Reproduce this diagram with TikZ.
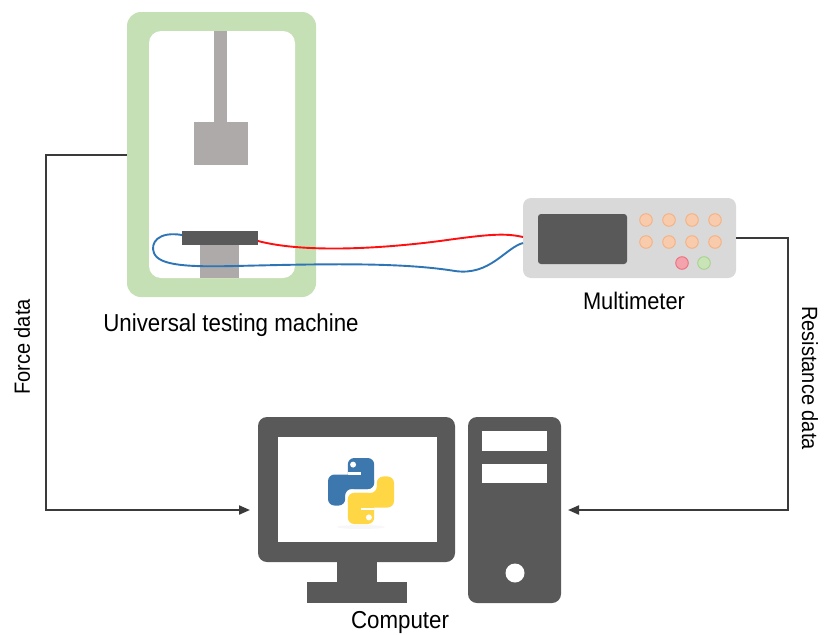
\documentclass[tikz,border=0pt]{standalone}
\usepackage{fontspec}
\setmainfont{Liberation Sans}[FakeStretch=0.91]
\usetikzlibrary{arrows.meta}

\definecolor{frameGreen}{HTML}{C5E0B4}
\definecolor{partGray}{HTML}{AEAAAA}
\definecolor{darkGray}{HTML}{595959}
\definecolor{meterBody}{HTML}{D9D9D9}
\definecolor{keyFill}{HTML}{F8CBAD}
\definecolor{keyEdge}{HTML}{F4B183}
\definecolor{redFill}{HTML}{F4A3AC}
\definecolor{redEdge}{HTML}{EB6F7C}
\definecolor{greenFill}{HTML}{C9E5B8}
\definecolor{greenEdge}{HTML}{A9D18E}
\definecolor{linkGray}{HTML}{3A3A3A}
\definecolor{wireRed}{HTML}{FF1010}
\definecolor{wireBlue}{HTML}{2E75B6}
\definecolor{pyBlue}{HTML}{3C78AD}
\definecolor{pyYellow}{HTML}{FFD745}

\newcommand{\snakehalf}[1]{%
  \fill[#1, rounded corners=6.5pt] (0.30,0) rectangle (0.70,0.47);
  \fill[#1, rounded corners=6.5pt] (0,0.25) -- (0.70,0.25) -- (0.70,0.47)
        -- (0.26,0.47) -- (0.26,0.72) -- (0,0.72) -- cycle;
  \fill[white] (0.30,0.21) rectangle (0.50,0.25);
  \fill[white] (0.38,0.10) circle[radius=0.045];
}

\begin{document}
\begin{tikzpicture}[x=1pt,y=-1pt,
  every node/.style={inner sep=0pt, outer sep=0pt},
  solidbox/.style={draw=none, rectangle},
  txt/.style={font=\fontsize{#1}{#1}\selectfont, text=black},
  link/.style={draw=linkGray, line width=2pt},
  tip/.style={-{Triangle[length=11pt,width=9pt]}},
  key/.style={fill=keyFill, draw=keyEdge, line width=0.9pt},
  wire/.style={line width=1.9pt}]

\useasboundingbox (0,0) rectangle (828,635);

% ---------- universal testing machine ----------
\node[solidbox, fill=frameGreen, rounded corners=14pt,
      minimum width=189pt, minimum height=285pt] (utm) at (221.5,154.5) {};
\node[solidbox, fill=white, rounded corners=12pt,
      minimum width=146pt, minimum height=247pt] (utmin) at (222,154.5) {};
\fill[partGray] (214,31) rectangle (227,122);
\fill[partGray] (194,122) rectangle (248,165);
\fill[partGray] (200,245) rectangle (239,278);
\node[solidbox, fill=darkGray, minimum width=76pt, minimum height=14pt] (plate) at (220,238) {};

% ---------- multimeter ----------
\node[solidbox, fill=meterBody, rounded corners=8pt,
      minimum width=213pt, minimum height=80pt] (mm) at (629.5,238) {};
\fill[darkGray, rounded corners=3pt] (538,214) rectangle (627,264);
\foreach \kx in {646,669,692,715}
  \foreach \ky in {220,242}
    \filldraw[key] (\kx,\ky) circle[radius=6.3];
\filldraw[fill=redFill, draw=redEdge, line width=0.9pt] (682,263) circle[radius=6.3];
\filldraw[fill=greenFill, draw=greenEdge, line width=0.9pt] (704,263) circle[radius=6.3];

% ---------- wires ----------
\draw[wire, wireRed] ([yshift=-3pt]plate.east)
   .. controls (300,252) and (370,250) .. (440,241)
   .. controls (490,234) and (505,233) .. ([yshift=1pt]mm.west);
\draw[wire, wireBlue] ([yshift=3pt]plate.west)
   .. controls (158,231) and (150,243) .. (154,253)
   .. controls (159,266) and (190,267) .. (235,266)
   .. controls (320,264) and (400,262) .. (455,271)
   .. controls (490,276) and (505,248) .. ([yshift=-5pt]mm.west);

% ---------- computer ----------
\node[solidbox, fill=darkGray, rounded corners=9pt,
      minimum width=197pt, minimum height=145pt] (mon) at (356.5,489.5) {};
\fill[white] (278,437) rectangle (437,542);
\fill[darkGray] (337,560) rectangle (377,583);
\fill[darkGray] (307,582) rectangle (407,603);

\node[solidbox, fill=darkGray, rounded corners=9pt,
      minimum width=93pt, minimum height=186pt] (tower) at (514.5,510) {};
\fill[white] (482,431) rectangle (547,451);
\fill[white] (482,464) rectangle (547,483);
\fill[white] (515,573) circle[radius=9.5];

% python logo on the screen
\fill[black, opacity=0.03] (361,527) ellipse[x radius=24, y radius=2];
\begin{scope}[shift={(328,458)}, x=66pt, y=-66pt]
  \snakehalf{pyBlue}
  \begin{scope}[rotate around={180:(0.5,0.5)}]
    \snakehalf{pyYellow}
  \end{scope}
\end{scope}

% ---------- data connectors ----------
\coordinate (forceIn) at (250,510);
\coordinate (resIn) at (568,510);
\draw[link, tip] (utm.west) -- ++(-81,0) |- (forceIn);
\draw[link, tip] (mm.east) -- ++(52,0) |- (resIn);

% ---------- labels ----------
\node[txt=24.5] (utmlabel) at (231,325) {Universal testing machine};
\node[txt=24] (mmlabel) at (634,301) {Multimeter};
\node[txt=24.5] (pclabel) at (400,622) {Computer};
\node[txt=22, rotate=90] (forcelabel) at (22,347) {Force data};
\node[txt=22, rotate=-90] (reslabel) at (810,378) {Resistance data};
\end{tikzpicture}
\end{document}
